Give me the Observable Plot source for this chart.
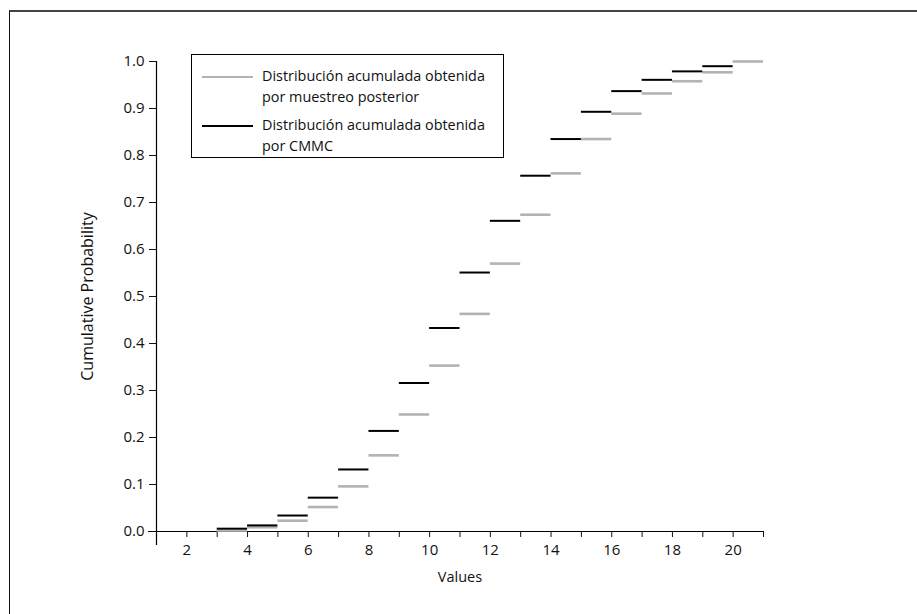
<!DOCTYPE html>
<html>
<head>
<meta charset="utf-8">
<script src="https://cdn.jsdelivr.net/npm/d3@7"></script>
<script src="https://cdn.jsdelivr.net/npm/@observablehq/plot@0.6"></script>
<style>
  html, body { margin: 0; padding: 0; background: #fff; }
  #wrap { position: relative; width: 917px; height: 614px; overflow: hidden; font-family: "Open Sans", sans-serif; }
  #border { position: absolute; left: 9px; top: 10px; width: 920px; height: 620px; border-top: 2px solid #444; border-left: 1.5px solid #111; box-sizing: border-box; pointer-events: none; }
  #legend { position: absolute; left: 191px; top: 54px; width: 313px; height: 104px; border: 1px solid #000; box-sizing: border-box; background: #fff; font-size: 14.4px; color: #111; }
  .item { position: absolute; left: 10px; display: flex; align-items: flex-start; }
  .swatch { width: 51px; margin-top: 11px; margin-right: 9px; }
  .txt { line-height: 21px; }
</style>
</head>
<body>
<div id="wrap">
  <div id="chart"></div>
  <div id="border"></div>
  <div id="legend"></div>
</div>
<script>
// Values (x) for each step, cumulative probabilities per series
const valuesPosterior = [3, 4, 5, 6, 7, 8, 9, 10, 11, 12, 13, 14, 15, 16, 17, 18, 19, 20];
const cumPosterior    = [0.002, 0.009, 0.023, 0.052, 0.096, 0.162, 0.249, 0.353, 0.463, 0.570, 0.674, 0.762, 0.835, 0.889, 0.932, 0.958, 0.977, 1.0];
const valuesCMMC      = [3, 4, 5, 6, 7, 8, 9, 10, 11, 12, 13, 14, 15, 16, 17, 18, 19];
const cumCMMC         = [0.006, 0.013, 0.034, 0.072, 0.132, 0.214, 0.316, 0.433, 0.551, 0.661, 0.757, 0.835, 0.893, 0.937, 0.961, 0.979, 0.990];
const seriesNames = ["Distribución acumulada obtenida\npor muestreo posterior", "Distribución acumulada obtenida\npor CMMC"];
const seriesColors = ["#b3b3b3", "#000000"];
const yTicks = [0, 0.1, 0.2, 0.3, 0.4, 0.5, 0.6, 0.7, 0.8, 0.9, 1.0];
const xTicks = d3.range(1, 22);
const xLabel = "Values";
const yLabel = "Cumulative Probability";

const posterior = valuesPosterior.map((v, i) => ({x: v, p: cumPosterior[i]}));
const cmmc = valuesCMMC.map((v, i) => ({x: v, p: cumCMMC[i]}));

const chart = Plot.plot({
  width: 917,
  height: 614,
  marginLeft: 156,
  marginRight: 154,
  marginTop: 61,
  marginBottom: 83,
  style: {fontFamily: "Open Sans, sans-serif", fontSize: "15px", color: "#111", background: "transparent"},
  x: {domain: [1, 21]},
  y: {domain: [0, 1]},
  marks: [
    Plot.axisY(yTicks, {tickSize: 7, tickPadding: 5, tickFormat: d3.format(".1f"), label: null, fontSize: 15}),
    Plot.axisX(xTicks, {tickSize: 6, tickPadding: 7, tickFormat: d => d % 2 === 0 ? String(d) : "", label: null, fontSize: 15}),
    Plot.ruleX([1], {y1: -0.03, y2: 1, stroke: "#000", strokeWidth: 1.2}),
    Plot.ruleY([0], {x1: 0.74, x2: 21, stroke: "#000", strokeWidth: 1.2}),
    Plot.ruleY(posterior, {x1: "x", x2: d => d.x + 1, y: "p", stroke: seriesColors[0], strokeWidth: 2.6}),
    Plot.ruleY(cmmc, {x1: "x", x2: d => d.x + 1, y: "p", stroke: seriesColors[1], strokeWidth: 2}),
    Plot.text([xLabel], {frameAnchor: "bottom", dy: 50, fontSize: 14.5, fill: "#111"}),
    Plot.text([yLabel], {frameAnchor: "left", dx: -69, rotate: -90, textAnchor: "middle", fontSize: 16, fill: "#111"})
  ]
});
document.getElementById("chart").appendChild(chart);

// Legend
const legend = document.getElementById("legend");
const tops = [10, 59];
seriesNames.forEach((name, i) => {
  const item = document.createElement("div");
  item.className = "item";
  item.style.top = tops[i] + "px";
  const sw = document.createElement("div");
  sw.className = "swatch";
  sw.style.borderTop = (i === 0 ? "2.6px" : "2px") + " solid " + seriesColors[i];
  const t = document.createElement("div");
  t.className = "txt";
  t.innerHTML = name.split("\n").join("<br>");
  item.appendChild(sw);
  item.appendChild(t);
  legend.appendChild(item);
});
</script>
</body>
</html>
